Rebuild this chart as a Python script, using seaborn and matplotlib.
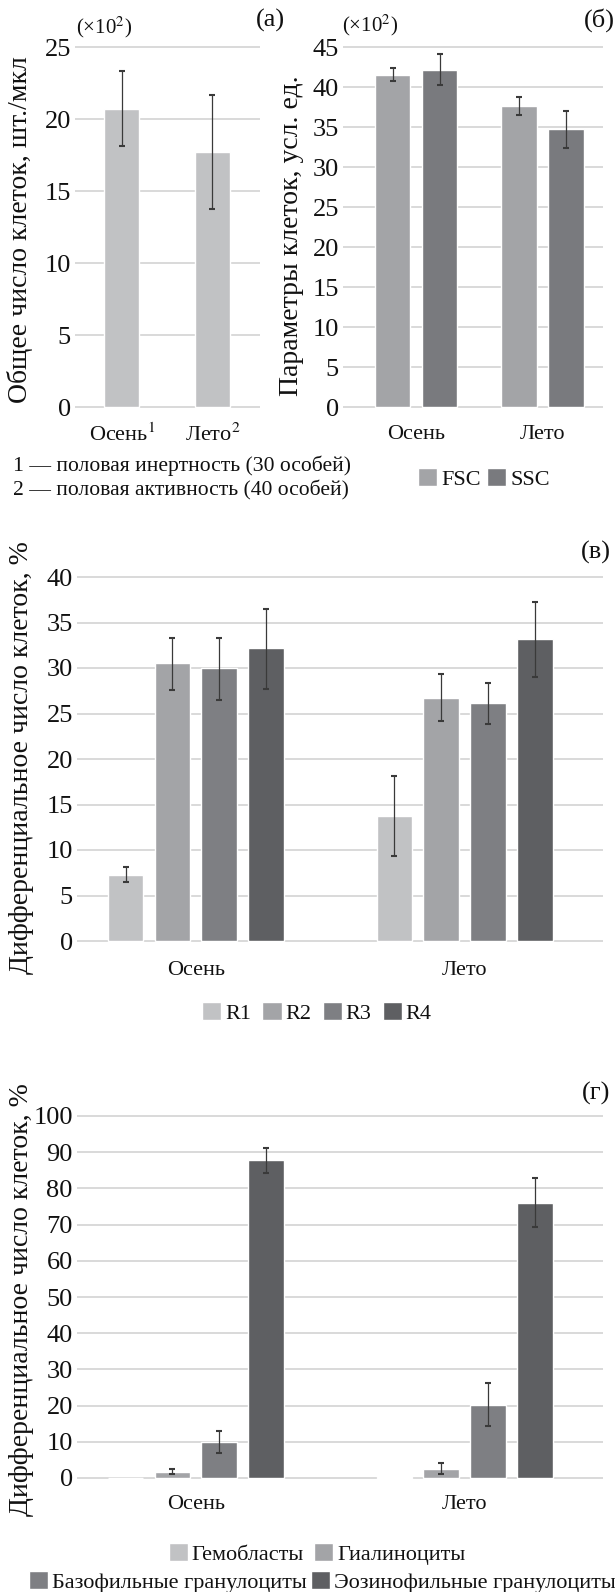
import numpy as np
import pandas as pd
import matplotlib
matplotlib.use("Agg")
import matplotlib.pyplot as plt
import seaborn as sns

# ---------------- data ----------------
seasons = ["Осень", "Лето"]
a_ticklabels = ["Осень$^{1}$", "Лето$^{2}$"]
a_mean = [20.7, 17.7]
a_low = [18.1, 13.75]
a_high = [23.35, 21.7]

b_series = ["FSC", "SSC"]
fsc_mean = [41.5, 37.6]
fsc_low = [40.75, 36.5]
fsc_high = [42.35, 38.8]
ssc_mean = [42.1, 34.7]
ssc_low = [40.2, 32.4]
ssc_high = [44.1, 37.05]

c_series = ["R1", "R2", "R3", "R4"]
r1_mean = [7.25, 13.75]
r1_low = [6.45, 9.35]
r1_high = [8.15, 18.1]
r2_mean = [30.5, 26.75]
r2_low = [27.6, 24.2]
r2_high = [33.3, 29.3]
r3_mean = [29.95, 26.1]
r3_low = [26.5, 23.9]
r3_high = [33.3, 28.35]
r4_mean = [32.15, 33.15]
r4_low = [27.7, 29.0]
r4_high = [36.5, 37.3]

d_series = ["Гемобласты", "Гиалиноциты", "Базофильные гранулоциты", "Эозинофильные гранулоциты"]
gem_mean = [0.0, 0.3]
gem_low = [0.0, 0.3]
gem_high = [0.0, 0.3]
hya_mean = [1.7, 2.5]
hya_low = [1.0, 1.2]
hya_high = [2.6, 4.1]
bas_mean = [9.85, 20.25]
bas_low = [6.9, 14.4]
bas_high = [13.1, 26.3]
eos_mean = [87.8, 76.0]
eos_low = [84.3, 69.3]
eos_high = [91.2, 83.0]

# ---------------- style ----------------
sns.set_style("white")
plt.rcParams["font.family"] = ["Liberation Serif", "DejaVu Serif"]
plt.rcParams["mathtext.fontset"] = "stix"
plt.rcParams["text.color"] = "#111111"

W, H = 615, 1592
fig = plt.figure(figsize=(W / 100, H / 100), dpi=100)
fig.patch.set_facecolor("white")

GRID = "#d9d9d9"
ERR = "#3a3a3a"
C1, C2, C3, C4 = "#c1c2c4", "#a3a4a7", "#7e7f83", "#5e5f62"


def place(ax, xl, xr, xlim, yb, yt, ymin, ymax):
    ppu = (yb - yt) / (ymax - ymin)
    pad = 3
    ax.set_ylim(ymin - pad / ppu, ymax + pad / ppu)
    ax.set_xlim(*xlim)
    ax.set_position([xl / W, 1 - (yb + pad) / H, (xr - xl) / W,
                     ((yb + pad) - (yt - pad)) / H])


def style(ax, yticks, tick_fs=19, x_fs=16, xpad=8):
    ax.set_yticks(yticks)
    ax.yaxis.grid(True, color=GRID, lw=1.4)
    ax.xaxis.grid(False)
    ax.set_axisbelow(True)
    for s in ax.spines.values():
        s.set_visible(False)
    ax.tick_params(axis="y", length=0, labelsize=tick_fs, pad=3, colors="#111111")
    ax.tick_params(axis="x", length=0, labelsize=x_fs, pad=xpad, colors="#111111")
    ax.set_xlabel("")
    ax.set_ylabel("")
    ax.set_facecolor("white")


def draw_err(ax, x, mv, l, h):
    ax.errorbar([x], [mv], yerr=[[mv - l], [h - mv]], fmt="none",
                ecolor=ERR, elinewidth=0.9, capsize=2.0, capthick=1.5, zorder=5)


def add_err(ax, means, lows, highs):
    # containers in hue order, bars in category order
    for cont, m, lo, hi in zip(ax.containers, means, lows, highs):
        for bar, mv, l, h in zip(cont.patches, m, lo, hi):
            if h - l <= 0:
                continue
            draw_err(ax, bar.get_x() + bar.get_width() / 2, mv, l, h)


# ---------------- panel (a) ----------------
ax_a = fig.add_axes([0, 0, 1, 1])
df_a = pd.DataFrame({"season": seasons, "value": a_mean})
sns.barplot(data=df_a, x="season", y="value", order=seasons, color=C1,
            width=0.387, errorbar=None, ax=ax_a, saturation=1)
for bar, mv, l, h in zip(ax_a.patches, a_mean, a_low, a_high):
    draw_err(ax_a, bar.get_x() + bar.get_width() / 2, mv, l, h)
place(ax_a, 75, 260, (-0.519, 1.525), 407, 47, 0, 25)
style(ax_a, [0, 5, 10, 15, 20, 25], xpad=10)
ax_a.set_xticks([0, 1])
ax_a.set_xticklabels(a_ticklabels)

# ---------------- panel (b) ----------------
ax_b = fig.add_axes([0, 0, 1, 1])
df_b = pd.DataFrame({
    "season": seasons * 2,
    "series": ["FSC"] * 2 + ["SSC"] * 2,
    "value": fsc_mean + ssc_mean,
})
sns.barplot(data=df_b, x="season", y="value", hue="series", order=seasons,
            hue_order=b_series, palette=[C2, "#797a7e"], width=0.743, gap=0.245,
            errorbar=None, ax=ax_b, saturation=1, legend=False)
add_err(ax_b, [fsc_mean, ssc_mean], [fsc_low, ssc_low], [fsc_high, ssc_high])
place(ax_b, 343, 603, (-0.577, 1.478), 407, 47, 0, 45)
style(ax_b, list(range(0, 50, 5)), xpad=11)

# ---------------- panel (c) ----------------
ax_c = fig.add_axes([0, 0, 1, 1])
c_means = [r1_mean, r2_mean, r3_mean, r4_mean]
df_c = pd.DataFrame({
    "season": seasons * 4,
    "series": [s for s in c_series for _ in seasons],
    "value": sum(c_means, []),
})
sns.barplot(data=df_c, x="season", y="value", hue="series", order=seasons,
            hue_order=c_series, palette=[C1, C2, C3, C4], width=0.696, gap=0.24,
            errorbar=None, ax=ax_c, saturation=1, legend=False)
add_err(ax_c, c_means, [r1_low, r2_low, r3_low, r4_low], [r1_high, r2_high, r3_high, r4_high])
place(ax_c, 77, 603, (-0.442, 1.515), 941, 577, 0, 40)
style(ax_c, list(range(0, 45, 5)), xpad=12)

# ---------------- panel (d) ----------------
ax_d = fig.add_axes([0, 0, 1, 1])
d_means = [gem_mean, hya_mean, bas_mean, eos_mean]
df_d = pd.DataFrame({
    "season": seasons * 4,
    "series": [s for s in d_series for _ in seasons],
    "value": sum(d_means, []),
})
sns.barplot(data=df_d, x="season", y="value", hue="series", order=seasons,
            hue_order=d_series, palette=[C1, C2, C3, C4], width=0.696, gap=0.24,
            errorbar=None, ax=ax_d, saturation=1, legend=False)
add_err(ax_d, d_means, [gem_low, hya_low, bas_low, eos_low], [gem_high, hya_high, bas_high, eos_high])
place(ax_d, 77, 603, (-0.442, 1.515), 1478, 1116, 0, 100)
style(ax_d, list(range(0, 110, 10)), xpad=10)

# ---------------- texts ----------------
def ftext(x, y, s, **kw):
    fig.text(x / W, 1 - y / H, s, **kw)

ftext(20, 230, "Общее число клеток, шт./мкл", rotation=90, ha="center", va="center", fontsize=20)
ftext(292, 236, "Параметры клеток, усл. ед.", rotation=90, ha="center", va="center", fontsize=20)
ftext(22, 758, "Дифференциальное число клеток, %", rotation=90, ha="center", va="center", fontsize=20)
ftext(22, 1300, "Дифференциальное число клеток, %", rotation=90, ha="center", va="center", fontsize=20)

ftext(104, 27, "(×10$^{2}$)", ha="center", va="center", fontsize=15)
ftext(370, 25, "(×10$^{2}$)", ha="center", va="center", fontsize=15)
ftext(270, 20, "(а)", ha="center", va="center", fontsize=19)
ftext(599, 20, "(б)", ha="center", va="center", fontsize=19)
ftext(596, 552, "(в)", ha="center", va="center", fontsize=19)
ftext(596, 1093, "(г)", ha="center", va="center", fontsize=19)

ftext(13, 466, "1 — половая инертность (30 особей)", ha="left", va="center", fontsize=15.6)
ftext(13, 490, "2 — половая активность (40 особей)", ha="left", va="center", fontsize=15.6)

# ---------------- legends ----------------
def legend(ax, labels, x, y, loc="center", fs=16, idx=None, colsp=0.3):
    conts = ax.containers
    if idx is None:
        idx = range(len(labels))
    handles = [conts[i].patches[0] for i in idx]
    leg = fig.legend(handles, labels, loc=loc, bbox_to_anchor=(x / W, 1 - y / H),
                     ncol=len(labels), frameon=False, fontsize=fs,
                     handlelength=0.86, handleheight=0.86, handletextpad=0.18,
                     columnspacing=colsp, borderaxespad=0, borderpad=0)
    return leg

legend(ax_b, b_series, 484, 479, colsp=0.27)
legend(ax_c, c_series, 317, 1013, colsp=0.5)
legend(ax_d, d_series[:2], 317, 1554, idx=[0, 1], colsp=0.45)
legend(ax_d, d_series[2:], 29, 1582, loc="center left", idx=[2, 3], colsp=0.18)

fig.savefig("out.png", dpi=100, facecolor="white")
